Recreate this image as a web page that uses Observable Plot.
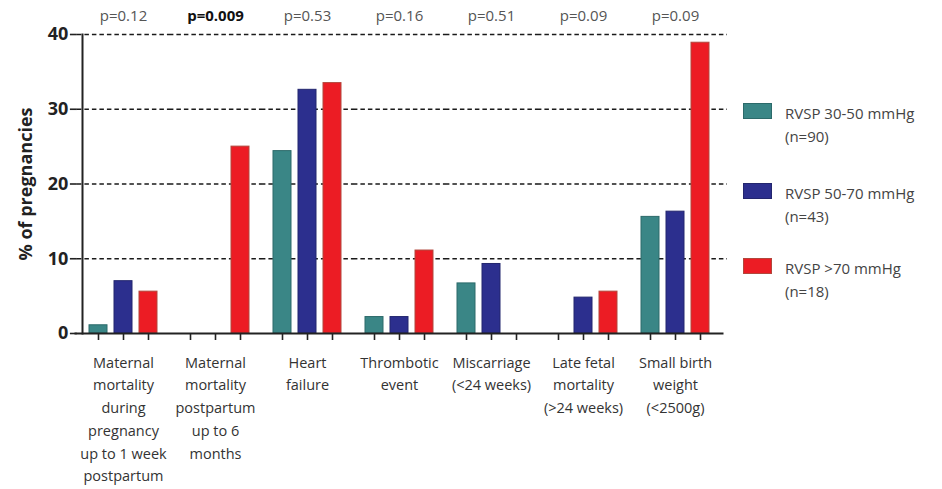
<!DOCTYPE html>
<html>
<head>
<meta charset="utf-8">
<script src="https://cdn.jsdelivr.net/npm/d3@7"></script>
<script src="https://cdn.jsdelivr.net/npm/@observablehq/plot@0.6"></script>
<style>
  html, body { margin: 0; padding: 0; background: #fff; }
  #wrap { position: relative; width: 942px; height: 489px; font-family: "Open Sans", sans-serif; }
  #chart { position: absolute; left: 0; top: 0; }
  #legend { position: absolute; left: 743px; top: 0; width: 199px; }
  .item { position: absolute; left: 0; width: 199px; }
  .sw { position: absolute; left: 0; width: 27px; height: 14px; border: 1px solid; }
  .lab { position: absolute; left: 42px; font-size: 15px; line-height: 23px; color: #444; white-space: nowrap; }
</style>
</head>
<body>
<div id="wrap">
  <div id="chart"></div>
  <div id="legend"></div>
</div>
<script>
const categories = [
  "Maternal mortality during pregnancy up to 1 week postpartum",
  "Maternal mortality postpartum up to 6 months",
  "Heart failure",
  "Thrombotic event",
  "Miscarriage (<24 weeks)",
  "Late fetal mortality (>24 weeks)",
  "Small birth weight (<2500g)"
];
const categoryLabels = [
  "Maternal\nmortality\nduring\npregnancy\nup to 1 week\npostpartum",
  "Maternal\nmortality\npostpartum\nup to 6\nmonths",
  "Heart\nfailure",
  "Thrombotic\nevent",
  "Miscarriage\n(<24 weeks)",
  "Late fetal\nmortality\n(>24 weeks)",
  "Small birth\nweight\n(<2500g)"
];
const seriesNames = ["RVSP 30-50 mmHg", "RVSP 50-70 mmHg", "RVSP >70 mmHg"];
const seriesN = ["(n=90)", "(n=43)", "(n=18)"];
const values30to50 = [1.1, 0, 24.4, 2.2, 6.7, 0, 15.6];
const values50to70 = [7.0, 0, 32.6, 2.2, 9.3, 4.8, 16.3];
const valuesOver70 = [5.6, 25.0, 33.5, 11.1, 0, 5.6, 38.9];
const pValues = ["p=0.12", "p=0.009", "p=0.53", "p=0.16", "p=0.51", "p=0.09", "p=0.09"];
const pSignificant = [false, true, false, false, false, false, false];
const yTicks = [0, 10, 20, 30, 40];

const fills = ["#3a8686", "#2c2f8e", "#ec1c24"];
const strokes = ["#2c6a6a", "#23266e", "#b2473c"];

const seriesValues = [values30to50, values50to70, valuesOver70];
const rows = [];
seriesNames.forEach((s, si) => {
  categories.forEach((c, ci) => rows.push({category: c, series: s, value: seriesValues[si][ci]}));
});
const pRows = categories.map((c, i) => ({category: c, p: pValues[i], sig: pSignificant[i]}));
const labelOf = new Map(categories.map((c, i) => [c, categoryLabels[i]]));
const gridRows = [];
categories.forEach(c => yTicks.filter(t => t > 0).forEach(t => gridRows.push({category: c, y: t})));
const lastCat = categories[categories.length - 1];

const barMarks = seriesNames.map((s, si) =>
  Plot.barY(rows.filter(d => d.series === s && d.value > 0), {
    fx: "category", x: "series", y: "value",
    fill: fills[si], stroke: strokes[si], strokeWidth: 1
  })
);

const gridStyle = {fx: "category", y: "y", stroke: "#1a1a1a", strokeWidth: 1.7, strokeDasharray: "4.5,3"};

const chart = Plot.plot({
  width: 735,
  height: 489,
  marginLeft: 76,
  marginRight: 14,
  marginTop: 34,
  marginBottom: 156,
  style: {fontFamily: "Open Sans", background: "#fff"},
  fx: {domain: categories, paddingInner: 0.11, paddingOuter: 0.055, align: 0.5, label: null},
  x: {domain: seriesNames, padding: 0.28, axis: null},
  y: {domain: [0, 40], axis: null},
  marks: [
    Plot.ruleY(gridRows.filter(d => d.category !== lastCat), {...gridStyle, insetLeft: -5.1, insetRight: -5.1}),
    Plot.ruleY(gridRows.filter(d => d.category === lastCat), {...gridStyle, insetLeft: -5.1, insetRight: -11}),
    ...barMarks,
    Plot.ruleX(rows, {fx: "category", x: "series", y1: 0, y2: 0, insetBottom: -7, stroke: "#222", strokeWidth: 1.6}),
    Plot.axisFx({anchor: "bottom", tickSize: 0, tickPadding: 18, label: null,
      tickFormat: c => labelOf.get(c), fontSize: 14.5, lineHeight: 1.57, fill: "#333"}),
    Plot.axisY({ticks: yTicks, tickSize: 7, tickPadding: 2, dx: -5.1, fontSize: 18, fontWeight: "bold",
      fill: "#222", stroke: "#222", strokeWidth: 1.6,
      label: "% of pregnancies", labelAnchor: "center", labelArrow: "none", labelOffset: 63}),
    Plot.frame({facet: "super", anchor: "left", stroke: "#222", strokeWidth: 2}),
    Plot.frame({facet: "super", anchor: "bottom", stroke: "#222", strokeWidth: 2, insetLeft: -7, insetRight: -6}),
    Plot.text(pRows.filter(d => !d.sig), {fx: "category", text: "p", frameAnchor: "top", lineAnchor: "middle", dy: -18, fontSize: 15, fill: "#555"}),
    Plot.text(pRows.filter(d => d.sig), {fx: "category", text: "p", frameAnchor: "top", lineAnchor: "middle", dy: -18, fontSize: 15, fontWeight: "bold", fill: "#111"})
  ]
});
document.getElementById("chart").appendChild(chart);

const legend = document.getElementById("legend");
const tops = [103, 183, 258];
seriesNames.forEach((s, i) => {
  const item = document.createElement("div");
  item.className = "item";
  item.style.top = tops[i] + "px";
  const sw = document.createElement("div");
  sw.className = "sw";
  sw.style.background = fills[i];
  sw.style.borderColor = strokes[i];
  const lab = document.createElement("div");
  lab.className = "lab";
  lab.style.top = "-1px";
  lab.innerHTML = s + "<br>" + seriesN[i];
  item.appendChild(sw);
  item.appendChild(lab);
  legend.appendChild(item);
});
</script>
</body>
</html>
